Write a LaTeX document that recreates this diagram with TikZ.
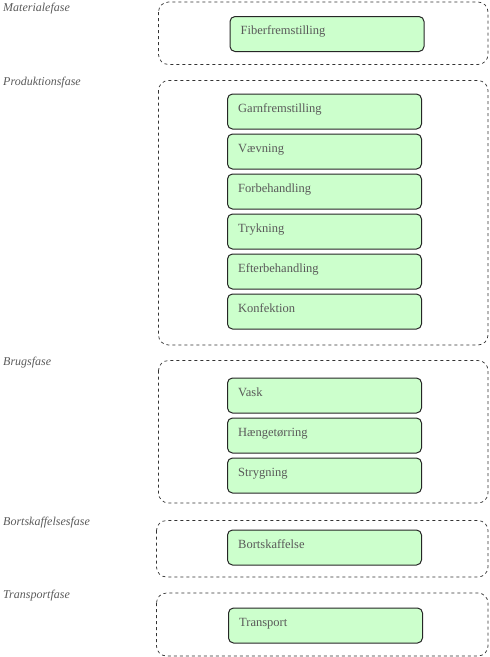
\documentclass[tikz,border=0pt]{standalone}
\usepackage{fontspec}
\setmainfont{Liberation Serif}
\definecolor{boxfill}{HTML}{CCFFCC}
\definecolor{txtgray}{HTML}{5A5A5A}
\begin{document}
\begin{tikzpicture}[x=1pt,y=-1pt,
  phase/.style={draw=black!80, dashed, line width=0.7pt, rounded corners=10pt},
  act/.style={draw=black!85, fill=boxfill, line width=1pt, rounded corners=5pt},
  acttext/.style={anchor=base west, text=txtgray, font=\fontsize{12.5}{14}\selectfont, inner sep=0pt},
  phlabel/.style={anchor=base west, text=txtgray, font=\itshape\fontsize{12}{14}\selectfont, inner sep=0pt}]
\useasboundingbox (0,0) rectangle (490,657);
% containers
\draw[phase] (158.5,2) rectangle (488,64.5);
\draw[phase] (158.5,80.5) rectangle (488,345);
\draw[phase] (158.5,360.5) rectangle (488,503);
\draw[phase] (156.5,520.5) rectangle (488,577);
\draw[phase] (156.5,593) rectangle (488,656);
% phase labels
\node[phlabel] (l1) at (3,11.5) {Materialefase};
\node[phlabel] (l2) at (3,85.5) {Produktionsfase};
\node[phlabel] (l3) at (3,365.5) {Brugsfase};
\node[phlabel] (l4) at (3,525.5) {Bortskaffelsesfase};
\node[phlabel] (l5) at (3,598.5) {Transportfase};
% activities
\newcommand{\actbox}[5]{%
  \draw[act] (#1,#2) rectangle (#3,#2+35);
  \node[acttext] (#4) at (#1+10.5,#2+18) {#5};}
\actbox{230}{16.5}{424}{a1}{Fiberfremstilling}
\actbox{227.5}{94}{421.5}{a2}{Garnfremstilling}
\actbox{227.5}{134}{421.5}{a3}{Vævning}
\actbox{227.5}{174}{421.5}{a4}{Forbehandling}
\actbox{227.5}{214}{421.5}{a5}{Trykning}
\actbox{227.5}{254}{421.5}{a6}{Efterbehandling}
\actbox{227.5}{294}{421.5}{a7}{Konfektion}
\actbox{227.5}{378}{421.5}{a8}{Vask}
\actbox{227.5}{418}{421.5}{a9}{Hængetørring}
\actbox{227.5}{458}{421.5}{a10}{Strygning}
\actbox{227.5}{530}{421.5}{a11}{Bortskaffelse}
\actbox{228.5}{608}{422.5}{a12}{Transport}
\end{tikzpicture}
\end{document}
